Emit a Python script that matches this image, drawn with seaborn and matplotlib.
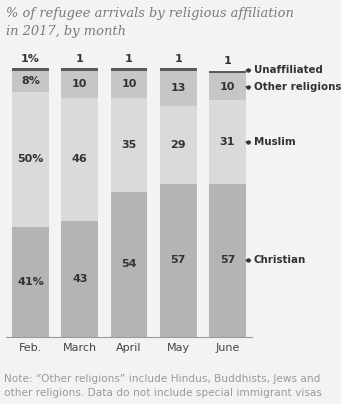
import matplotlib
matplotlib.use("Agg")
import matplotlib.pyplot as plt
import seaborn as sns
import numpy as np
import pandas as pd

months = ["Feb.", "March", "April", "May", "June"]
christian = [41, 43, 54, 57, 57]
muslim = [50, 46, 35, 29, 31]
other = [8, 10, 10, 13, 10]
unaffiliated = [1, 1, 1, 1, 1]
series_names = ["Christian", "Muslim", "Other religions", "Unaffiliated"]

colors = {"Christian": "#b4b4b4", "Muslim": "#dadada", "Other religions": "#c6c6c6", "Unaffiliated": "#5a5a5a"}

sns.set_theme(style="white")
plt.rcParams['font.family'] = ['DejaVu Sans']

bg = "#f3f3f3"
fig = plt.figure(figsize=(3.41, 4.04), dpi=100, facecolor=bg)
ax = fig.add_axes([6/341, 1 - 337/404, 246/341, 269/404])
ax.set_facecolor(bg)

df = pd.DataFrame({"month": months, "Christian": christian, "Muslim": muslim,
                   "Other religions": other, "Unaffiliated": unaffiliated})
cum = df[series_names].cumsum(axis=1)

# draw from top-most cumulative down so lower segments overlay
for name in reversed(series_names):
    sns.barplot(data=cum.assign(month=df["month"]), x="month", y=name, color=colors[name],
                width=0.75, saturation=1, ax=ax, edgecolor="none", linewidth=0)

ax.set_xlim(-0.5, 4.5)
ax.set_ylim(0, 100)
for s in ["top", "right", "left"]:
    ax.spines[s].set_visible(False)
ax.spines["bottom"].set_color("#9a9a9a")
ax.spines["bottom"].set_linewidth(0.8)
ax.set_xlabel("")
ax.set_ylabel("")
ax.set_yticks([])
ax.tick_params(axis="x", length=0, pad=4, labelsize=8, labelcolor="#444444")

txt_kw = dict(ha="center", va="center", fontsize=8, color="#333333", fontweight="bold")
for i in range(len(months)):
    c = christian[i]; m = muslim[i]; o = other[i]; u = unaffiliated[i]
    pct = "%" if i == 0 else ""
    ax.text(i, c / 2, f"{c}{pct}", **txt_kw)
    ax.text(i, c + m / 2, f"{m}{pct}", **txt_kw)
    ax.text(i, c + m + o / 2, f"{o}{pct}", **txt_kw)
    ax.text(i, c + m + o + u + 3.5, f"{u}{pct}", clip_on=False, **txt_kw)

# right-side labels with leader lines (June)
j = 4
tops = [christian[j] / 2, christian[j] + muslim[j] / 2,
        christian[j] + muslim[j] + other[j] / 2, christian[j] + muslim[j] + other[j] + 1.2]
for name, yv in zip(series_names, tops):
    ax.annotate(name, xy=(j + 0.375, yv), xytext=(j + 0.54, yv), textcoords="data",
                ha="left", va="center", fontsize=7.4, color="#333333", fontweight="bold",
                annotation_clip=False,
                arrowprops=dict(arrowstyle="-", color="#333333", lw=0.8, shrinkA=0, shrinkB=0))
    ax.plot([j + 0.42], [yv], marker="o", ms=2.2, color="#333333", clip_on=False)

fig.text(6/341, 1 - 7/404, "% of refugee arrivals by religious affiliation\nin 2017, by month",
         ha="left", va="top", fontsize=9.4, color="#7a7a7a", style="italic",
         family="DejaVu Serif", linespacing=1.55)

fig.text(4/341, 1 - 374/404, "Note: \u201cOther religions\u201d include Hindus, Buddhists, Jews and\nother religions. Data do not include special immigrant visas",
         ha="left", va="top", fontsize=7.6, color="#9a9a9a", linespacing=1.45)

fig.savefig("out.png", dpi=100, facecolor=bg)
